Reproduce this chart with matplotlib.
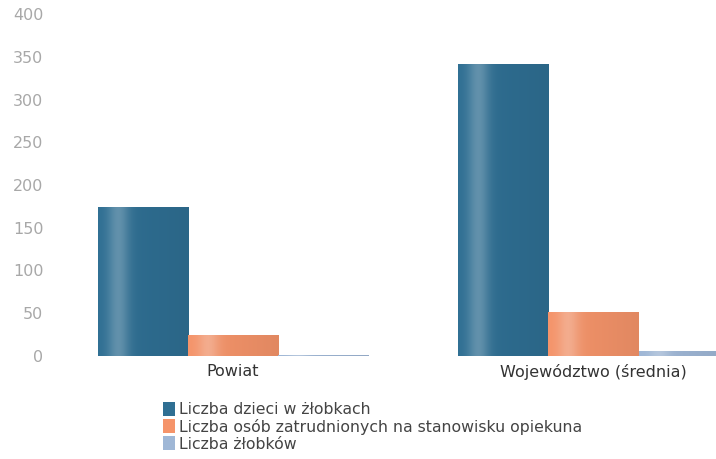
import matplotlib.pyplot as plt
import numpy as np

categories = ['Powiat', 'Województwo (średnia)']
series_names = ['Liczba dzieci w żłobkach',
                'Liczba osób zatrudnionych na stanowisku opiekuna',
                'Liczba żłobków']
dzieci = [174, 342]
opiekunowie = [25, 51]
zlobki = [1, 6]
yticks = [0, 50, 100, 150, 200, 250, 300, 350, 400]

colors = ['#2f6f93', '#f5946a', '#9fb7d6']


def shade(ax, bar, color):
    # cylinder-ish shading across the bar
    rgb = np.array(plt.matplotlib.colors.to_rgb(color))
    t = np.linspace(0, 1, 64)
    light = 0.25 * np.exp(-((t - 0.22) / 0.12) ** 2)
    dark = 0.08 * t
    cols = rgb[None, :] * (1 - dark[:, None]) + (1 - rgb[None, :]) * light[:, None]
    cols = np.clip(cols, 0, 1)[None, :, :]
    x0, y0 = bar.get_x(), bar.get_y()
    w, h = bar.get_width(), bar.get_height()
    im = ax.imshow(cols, extent=[x0, x0 + w, y0, y0 + h], aspect='auto',
                   interpolation='bilinear', zorder=3)
    im.set_clip_path(bar)


def main():
    fig = plt.figure(figsize=(7.16, 4.59), dpi=100)
    ax = fig.add_axes([60 / 716, 103 / 459, 656 / 716, 342 / 459])

    x = np.arange(len(categories))
    w = 0.25
    handles = []
    for i, (vals, col) in enumerate(zip([dzieci, opiekunowie, zlobki], colors)):
        bars = ax.bar(x + (i - 1) * w, vals, w, color=col, label=series_names[i], zorder=2)
        for b in bars:
            shade(ax, b, col)
        handles.append(bars)

    ax.set_xlim(-0.48, 1.34)
    ax.set_ylim(0, 400)
    ax.set_yticks(yticks)
    ax.set_xticks(x)
    ax.set_xticklabels(categories, fontsize=11.5, color='#333333')
    ax.tick_params(axis='y', colors='#a8a8a8', labelsize=11.5, length=0, pad=12)
    ax.tick_params(axis='x', length=0, pad=6)
    for s in ax.spines.values():
        s.set_visible(False)

    fig.legend(handles, series_names, loc='upper left', bbox_to_anchor=(155 / 716, 1 - 394 / 459),
               frameon=False, fontsize=11.3, handlelength=0.75, handleheight=1.0,
               handletextpad=0.3, labelspacing=0.1, borderpad=0, labelcolor='#444444')

    fig.savefig('out.png', dpi=100)


if __name__ == '__main__':
    main()
